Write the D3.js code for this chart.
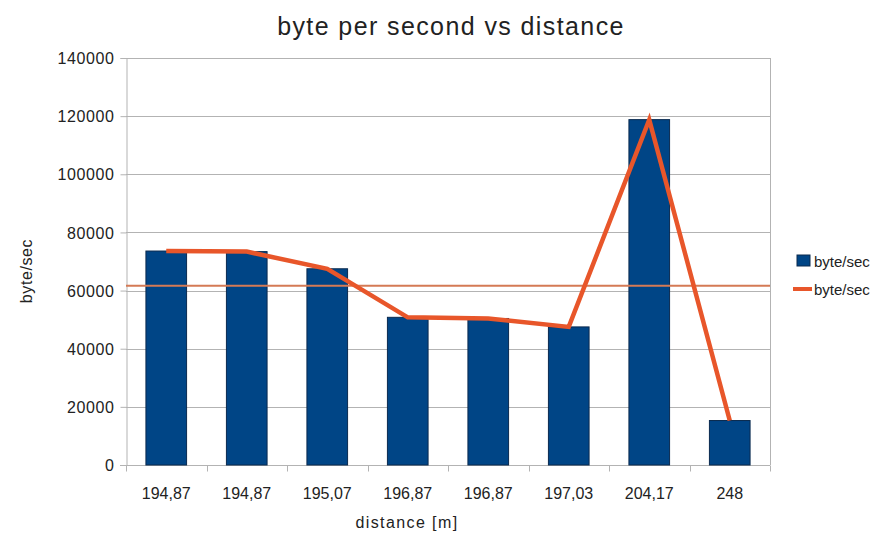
<!DOCTYPE html>
<html>
<head>
<meta charset="utf-8">
<script src="https://cdn.jsdelivr.net/npm/d3@7"></script>
<style>
  html, body { margin: 0; padding: 0; background: #fff; }
  svg text { font-family: "Liberation Sans", Arial, sans-serif; fill: #222; }
</style>
</head>
<body>
<svg id="chart" width="887" height="534"></svg>
<script>
// Chart data
const categories = ["194,87", "194,87", "195,07", "196,87", "196,87", "197,03", "204,17", "248"];
const byteRate = [73600, 73400, 67500, 50800, 50400, 47500, 118800, 15300];
const yTicks = [0, 20000, 40000, 60000, 80000, 100000, 120000, 140000];
const referenceLevel = [61700];
const seriesNames = ["byte/sec", "byte/sec"];

const svg = d3.select("#chart");
const margin = { left: 126, right: 117, top: 60, bottom: 69 };
const W = 887, H = 534;
const x0 = margin.left, x1 = W - margin.right;
const y0 = H - margin.bottom, y1 = margin.top;

const x = d3.scaleBand().domain(d3.range(categories.length)).range([x0, x1]).paddingInner(0).paddingOuter(0);
const y = d3.scaleLinear().domain([0, 140000]).range([y0, y1 - 2]);

const gridColor = "#b3b3b3";

// horizontal grid lines
svg.append("g").selectAll("line").data(yTicks).join("line")
  .attr("x1", x0).attr("x2", x1)
  .attr("y1", d => Math.round(y(d)) + 0.5).attr("y2", d => Math.round(y(d)) + 0.5)
  .attr("stroke", gridColor).attr("stroke-width", 1);

// right border of the plot area
svg.append("line")
  .attr("x1", x1 + 0.5).attr("x2", x1 + 0.5)
  .attr("y1", y(140000)).attr("y2", y0)
  .attr("stroke", gridColor);

// y axis
const yAxis = d3.axisLeft(y).tickValues(yTicks).tickSize(6).tickPadding(6).tickFormat(d3.format("d"));
const gy = svg.append("g").attr("transform", `translate(${x0 + 0.5},0)`).call(yAxis);
gy.select(".domain").attr("stroke", gridColor);
gy.selectAll(".tick line").attr("stroke", gridColor);
gy.selectAll(".tick text").style("font-size", "16px").style("letter-spacing", "0.6px")
  .attr("fill", "#222").attr("dy", "0.35em");

// x axis: ticks on category boundaries
const gx = svg.append("g").attr("transform", `translate(0,${y0 + 0.5})`);
gx.append("line").attr("x1", x0 - 6).attr("x2", x1).attr("stroke", gridColor);
gx.selectAll("line.tk").data(d3.range(categories.length + 1)).join("line")
  .attr("class", "tk")
  .attr("x1", i => Math.round(x0 + i * x.step()) + 0.5)
  .attr("x2", i => Math.round(x0 + i * x.step()) + 0.5)
  .attr("y1", 0).attr("y2", 6)
  .attr("stroke", gridColor);
gx.selectAll("text").data(categories).join("text")
  .attr("x", (d, i) => x(i) + x.bandwidth() / 2)
  .attr("y", 33)
  .attr("text-anchor", "middle")
  .style("font-size", "16px")
  .text(d => d);

// bars
const barW = x.bandwidth() * 0.505;
svg.append("g").selectAll("rect").data(byteRate).join("rect")
  .attr("x", (d, i) => x(i) + (x.bandwidth() - barW) / 2)
  .attr("y", d => y(d))
  .attr("width", barW)
  .attr("height", d => y0 - y(d))
  .attr("fill", "#004586")
  .attr("stroke", "#0a2a4f")
  .attr("stroke-width", 1);

// horizontal reference line
svg.append("g").selectAll("line").data(referenceLevel).join("line")
  .attr("x1", x0).attr("x2", x1)
  .attr("y1", d => y(d)).attr("y2", d => y(d))
  .attr("stroke", "#d47a55").attr("stroke-width", 2);

// line series through the category centres
const line = d3.line()
  .x((d, i) => x(i) + x.bandwidth() / 2)
  .y(d => y(d));
svg.append("path").datum(byteRate)
  .attr("d", line)
  .attr("fill", "none")
  .attr("stroke", "#e8562a")
  .attr("stroke-width", 4.5)
  .attr("stroke-linejoin", "miter");

// title and axis titles
svg.append("text").attr("x", 451).attr("y", 35).attr("text-anchor", "middle")
  .style("font-size", "25px").style("letter-spacing", "1.4px")
  .attr("fill", "#222").text("byte per second vs distance");
svg.append("text").attr("x", 407).attr("y", 528).attr("text-anchor", "middle")
  .style("font-size", "16px").style("letter-spacing", "1.4px").text("distance [m]");
svg.append("text").attr("transform", "translate(32,271) rotate(-90)").attr("text-anchor", "middle")
  .style("font-size", "16px").style("letter-spacing", "0.6px").text("byte/sec");

// legend
const lg = svg.append("g").attr("transform", "translate(797,0)");
lg.append("rect").attr("x", 0).attr("y", 255).attr("width", 13).attr("height", 11)
  .attr("fill", "#004586").attr("stroke", "#0a2a4f");
lg.append("line").attr("x1", -4).attr("x2", 15).attr("y1", 289).attr("y2", 289)
  .attr("stroke", "#e8562a").attr("stroke-width", 4);
lg.selectAll("text").data(seriesNames).join("text")
  .attr("x", 17).attr("y", (d, i) => 267 + i * 28)
  .style("font-size", "15px").text(d => d);
</script>
</body>
</html>
